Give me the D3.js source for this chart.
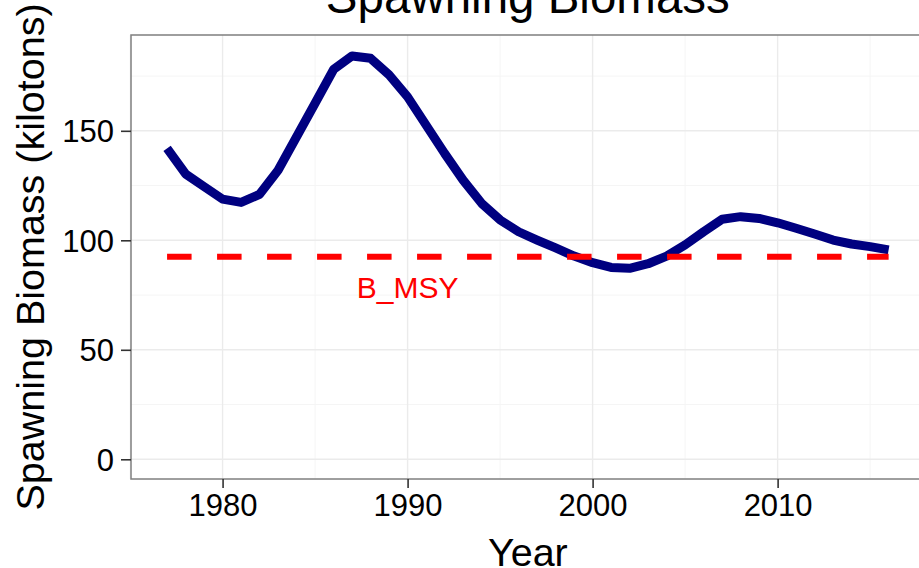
<!DOCTYPE html>
<html>
<head>
<meta charset="utf-8">
<script src="https://cdn.jsdelivr.net/npm/d3@7/dist/d3.min.js"></script>
<style>
  html, body { margin: 0; padding: 0; background: #fff; }
  svg { display: block; font-family: "Liberation Sans", Arial, sans-serif; }
</style>
</head>
<body>
<svg id="chart" width="919" height="568"></svg>
<script>
// Spawning biomass (kilotons) by year
const years = [1977, 1978, 1979, 1980, 1981, 1982, 1983, 1984, 1985, 1986,
               1987, 1988, 1989, 1990, 1991, 1992, 1993, 1994, 1995, 1996,
               1997, 1998, 1999, 2000, 2001, 2002, 2003, 2004, 2005, 2006,
               2007, 2008, 2009, 2010, 2011, 2012, 2013, 2014, 2015, 2016];
const biomass = [142.0, 130.3, 124.5, 118.8, 117.3, 121.0, 132.0, 147.3, 162.6, 178.0,
                 184.2, 183.1, 175.5, 165.5, 152.6, 139.7, 127.5, 116.9, 109.3, 103.9,
                 100.1, 96.5, 92.8, 89.8, 87.6, 87.2, 89.3, 92.8, 97.9, 103.9,
                 109.6, 110.8, 110.0, 108.0, 105.5, 102.9, 100.1, 98.3, 97.1, 95.6];

// Reference point
const bMsy = 92.5;
const bMsyLabel = "B_MSY";
const bMsyLabelYear = 1990;
const bMsyLabelValue = 78.5;

// Axes
const xTicks = [1980, 1990, 2000, 2010];
const xMinor = [1975, 1985, 1995, 2005, 2015];
const yTicks = [0, 50, 100, 150];
const yMinor = [25, 75, 125, 175];
const xDomain = [1975.05, 2017.95];
const yDomain = [-9, 193.75];

const titleText = "Spawning Biomass";
const xTitle = "Year";
const yTitle = "Spawning Biomass (kilotons)";

const svg = d3.select("#chart");
const panel = { left: 131, top: 35, right: 924.7, bottom: 479 };

const x = d3.scaleLinear().domain(xDomain).range([panel.left, panel.right]);
const y = d3.scaleLinear().domain(yDomain).range([panel.bottom, panel.top]);

// panel background + grid
const g = svg.append("g");
g.append("rect")
  .attr("x", panel.left).attr("y", panel.top)
  .attr("width", panel.right - panel.left).attr("height", panel.bottom - panel.top)
  .attr("fill", "#fff");

const grid = g.append("g");
grid.selectAll("line.xminor").data(xMinor).join("line")
  .attr("x1", d => x(d)).attr("x2", d => x(d))
  .attr("y1", panel.top).attr("y2", panel.bottom)
  .attr("stroke", "#f5f5f5").attr("stroke-width", 1);
grid.selectAll("line.yminor").data(yMinor).join("line")
  .attr("y1", d => y(d)).attr("y2", d => y(d))
  .attr("x1", panel.left).attr("x2", panel.right)
  .attr("stroke", "#f5f5f5").attr("stroke-width", 1);
grid.selectAll("line.xmajor").data(xTicks).join("line")
  .attr("x1", d => x(d)).attr("x2", d => x(d))
  .attr("y1", panel.top).attr("y2", panel.bottom)
  .attr("stroke", "#ebebeb").attr("stroke-width", 1.4);
grid.selectAll("line.ymajor").data(yTicks).join("line")
  .attr("y1", d => y(d)).attr("y2", d => y(d))
  .attr("x1", panel.left).attr("x2", panel.right)
  .attr("stroke", "#ebebeb").attr("stroke-width", 1.4);

// biomass line
const line = d3.line()
  .x((d, i) => x(years[i]))
  .y(d => y(d));
g.append("path")
  .datum(biomass)
  .attr("d", line)
  .attr("fill", "none")
  .attr("stroke", "#000080")
  .attr("stroke-width", 9)
  .attr("stroke-linejoin", "round")
  .attr("stroke-linecap", "butt");

// B_MSY reference segment
g.append("line")
  .attr("x1", x(years[0])).attr("x2", x(years[years.length - 1]))
  .attr("y1", y(bMsy)).attr("y2", y(bMsy))
  .attr("stroke", "#ff0000")
  .attr("stroke-width", 6)
  .attr("stroke-dasharray", "24.5,25.5");

g.append("text")
  .attr("x", x(bMsyLabelYear))
  .attr("y", y(bMsyLabelValue) + 10.5)
  .attr("text-anchor", "middle")
  .attr("fill", "#ff0000")
  .attr("font-size", 30)
  .text(bMsyLabel);

// panel border
g.append("rect")
  .attr("x", panel.left).attr("y", panel.top)
  .attr("width", panel.right - panel.left).attr("height", panel.bottom - panel.top)
  .attr("fill", "none")
  .attr("stroke", "#7f7f7f").attr("stroke-width", 1.5);

// axes
const xAxis = d3.axisBottom(x).tickValues(xTicks).tickFormat(d3.format("d"))
  .tickSize(9).tickPadding(6);
const yAxis = d3.axisLeft(y).tickValues(yTicks).tickFormat(d3.format("d"))
  .tickSize(10).tickPadding(7);

const gx = svg.append("g").attr("transform", `translate(0,${panel.bottom})`).call(xAxis);
const gy = svg.append("g").attr("transform", `translate(${panel.left},0)`).call(yAxis);
[gx, gy].forEach(a => {
  a.select(".domain").remove();
  a.selectAll(".tick line").attr("stroke", "#333").attr("stroke-width", 1.6);
  a.selectAll(".tick text").attr("fill", "#000").attr("font-size", 31)
    .attr("font-family", "Liberation Sans, Arial, sans-serif");
});
gx.selectAll(".tick text").attr("dy", "0.72em");
gy.selectAll(".tick text").attr("dy", "0.36em");

// titles
svg.append("text")
  .attr("x", (panel.left + panel.right) / 2)
  .attr("y", 13)
  .attr("text-anchor", "middle")
  .attr("font-size", 47.5)
  .attr("fill", "#000")
  .text(titleText);

svg.append("text")
  .attr("x", (panel.left + panel.right) / 2)
  .attr("y", 566)
  .attr("text-anchor", "middle")
  .attr("font-size", 39.5)
  .attr("fill", "#000")
  .text(xTitle);

svg.append("text")
  .attr("transform", `translate(43.5,${(panel.top + panel.bottom) / 2}) rotate(-90)`)
  .attr("text-anchor", "middle")
  .attr("font-size", 39.5)
  .attr("fill", "#000")
  .text(yTitle);
</script>
</body>
</html>
